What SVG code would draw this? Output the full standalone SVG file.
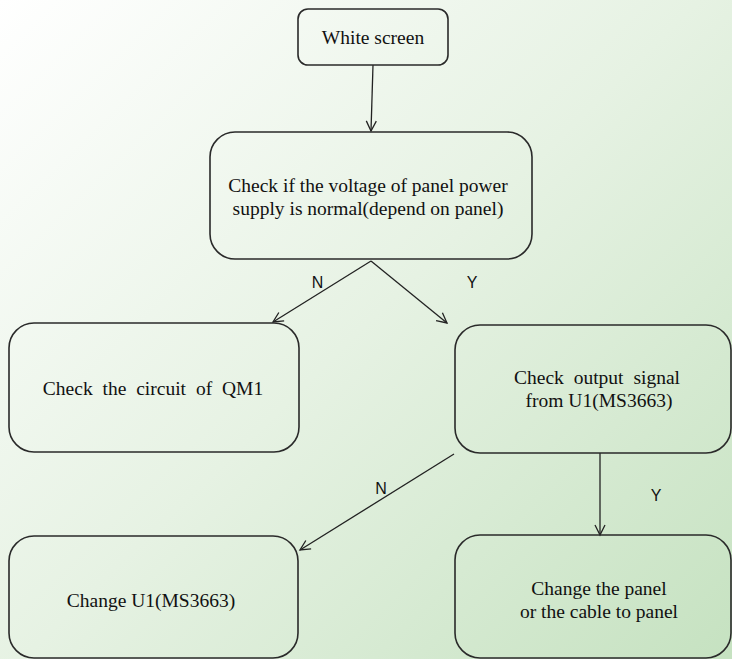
<svg xmlns="http://www.w3.org/2000/svg" width="732" height="659" viewBox="0 0 732 659">
  <defs>
    <linearGradient id="bg" x1="0" y1="0" x2="680" y2="700" gradientUnits="userSpaceOnUse">
      <stop offset="0" stop-color="#ffffff"/>
      <stop offset="0.5" stop-color="#e6f2e3"/>
      <stop offset="1" stop-color="#c6e2c1"/>
    </linearGradient>
    <marker id="arr" markerWidth="14" markerHeight="14" refX="11" refY="6" orient="auto" markerUnits="userSpaceOnUse">
      <path d="M1,1 L11,6 L1,11" fill="none" stroke="#222" stroke-width="1.3"/>
    </marker>
    <style>
      .box { fill: none; stroke: #2a2a2a; stroke-width: 1.6; }
      .t { font-family: "Liberation Serif", "Times New Roman", serif; font-size: 19.5px; fill: #111; text-anchor: middle; }
      .lbl { font-family: "Liberation Sans", Arial, sans-serif; font-size: 16px; fill: #111; text-anchor: middle; }
      .c { fill: none; stroke: #222; stroke-width: 1.3; marker-end: url(#arr); }
    </style>
  </defs>
  <rect x="0" y="0" width="732" height="659" fill="url(#bg)"/>

  <g id="connectors">
    <line class="c" x1="373" y1="65" x2="371" y2="131"/>
    <line class="c" x1="371" y1="261" x2="273" y2="322"/>
    <line class="c" x1="371" y1="261" x2="447" y2="323"/>
    <line class="c" x1="454" y1="454" x2="300" y2="550"/>
    <line class="c" x1="600" y1="453" x2="600" y2="535"/>
    <text class="lbl" x="317.5" y="288">N</text>
    <text class="lbl" x="472" y="288">Y</text>
    <text class="lbl" x="381" y="494">N</text>
    <text class="lbl" x="656" y="501">Y</text>
  </g>

  <g id="white-screen">
    <rect class="box" x="298" y="9" width="150" height="56" rx="10"/>
    <text class="t" x="373" y="44">White screen</text>
  </g>

  <g id="check-voltage">
    <rect class="box" x="210" y="132" width="322" height="127" rx="25"/>
    <text class="t" x="368" y="192">Check if the voltage of panel power</text>
    <text class="t" x="368" y="215">supply is normal(depend on panel)</text>
  </g>

  <g id="check-qm1">
    <rect class="box" x="9" y="323" width="290" height="129" rx="25"/>
    <text class="t" x="153" y="395" word-spacing="5">Check the circuit of QM1</text>
  </g>

  <g id="check-output">
    <rect class="box" x="455" y="325" width="276" height="128" rx="25"/>
    <text class="t" x="597" y="384" word-spacing="5">Check output signal</text>
    <text class="t" x="599" y="407">from U1(MS3663)</text>
  </g>

  <g id="change-u1">
    <rect class="box" x="9" y="536" width="289" height="122" rx="25"/>
    <text class="t" x="151" y="607">Change U1(MS3663)</text>
  </g>

  <g id="change-panel">
    <rect class="box" x="455" y="535" width="276" height="123" rx="25"/>
    <text class="t" x="599" y="595">Change the panel</text>
    <text class="t" x="599" y="618">or the cable to panel</text>
  </g>
</svg>
